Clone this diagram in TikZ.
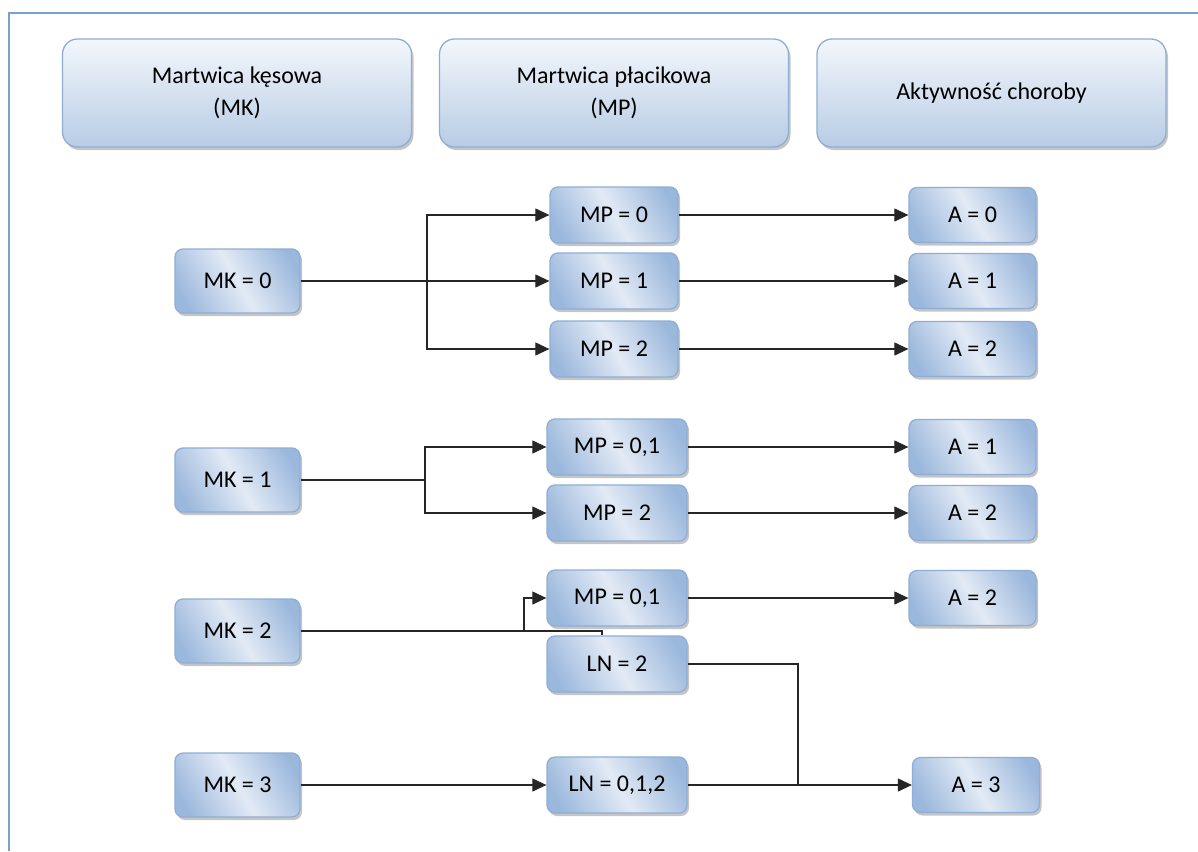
\documentclass[tikz,border=0pt]{standalone}
\usepackage{fontspec}
\setmainfont{Carlito}
\usetikzlibrary{arrows.meta,shadows}
\definecolor{bxdark}{HTML}{9AB7DC}
\definecolor{bxlight}{HTML}{E2EAF5}
\definecolor{bxborder}{HTML}{8FAED5}
\definecolor{hdtop}{HTML}{F3F7FB}
\definecolor{hdbot}{HTML}{B8CCE5}
\definecolor{framecol}{HTML}{7A9FD2}
\pgfdeclarehorizontalshading{boxsh}{100bp}{color(0bp)=(bxdark); color(22bp)=(bxdark); color(50bp)=(bxlight); color(78bp)=(bxdark); color(100bp)=(bxdark)}
\tikzset{
  shd/.style={drop shadow={shadow xshift=2pt,shadow yshift=-3pt,fill=black!50,opacity=.45}},
  smallbox/.style={shd,draw=bxborder,line width=1.3pt,rounded corners=8pt,shading=boxsh,shading angle=30,
    minimum height=56pt,inner sep=0pt,font=\fontsize{24}{28}\selectfont,text=black},
  mkbox/.style={smallbox,minimum width=125pt,minimum height=64pt},
  mpbox/.style={smallbox,minimum width=128pt},
  mpwbox/.style={smallbox,minimum width=140pt},
  abox/.style={smallbox,minimum width=127pt,minimum height=55pt},
  headbox/.style={shd,draw=bxborder,line width=1.3pt,rounded corners=15pt,top color=hdtop,bottom color=hdbot,
    minimum width=349pt,minimum height=108pt,inner sep=0pt,align=center,
    font=\fontsize{24}{32}\selectfont,text=black},
  conn/.style={line width=1.2pt,black!85},
  arr/.style={conn,-{Triangle[length=14pt,width=13pt]}},
}
\begin{document}
\begin{tikzpicture}[x=1pt,y=-1pt]
\useasboundingbox (0,0) rectangle (1198,851);
\fill[white] (0,0) rectangle (1198,851);
\draw[framecol,line width=1.5pt] (9,851) -- (9,13) -- (1198,13);

% headers
\node[headbox] (h1) at (237,93) {Martwica kęsowa\\(MK)};
\node[headbox] (h2) at (614,93) {Martwica płacikowa\\(MP)};
\node[headbox] (h3) at (991.5,93) {Aktywność choroby};

% MK column
\node[mkbox] (mk0) at (237.5,281) {MK = 0};
\node[mkbox] (mk1) at (237.5,480) {MK = 1};
\node[mkbox] (mk2) at (237.5,631) {MK = 2};
\node[mkbox] (mk3) at (237.5,785) {MK = 3};

% MP column
\node[mpbox] (mp0a) at (614,215) {MP = 0};
\node[mpbox] (mp1a) at (614,281) {MP = 1};
\node[mpbox] (mp2a) at (614,349) {MP = 2};
\node[mpwbox] (mp01b) at (617,447) {MP = 0,1};
\node[mpwbox] (mp2b) at (617,513) {MP = 2};
\node[mpwbox] (mp01c) at (617,598) {MP = 0,1};
\node[mpwbox] (ln2) at (617,664) {LN = 2};
\node[mpwbox] (ln012) at (617,785) {LN = 0,1,2};

% A column
\node[abox] (a0) at (972.5,215) {A = 0};
\node[abox] (a1) at (972.5,281) {A = 1};
\node[abox] (a2) at (972.5,349) {A = 2};
\node[abox] (a1b) at (972.5,447) {A = 1};
\node[abox] (a2b) at (972.5,513) {A = 2};
\node[abox] (a2c) at (972.5,598) {A = 2};
\node[abox] (a3) at (976,785) {A = 3};

% junction coordinates
\coordinate (j1) at (427,281);
\coordinate (j2) at (425,480);
\coordinate (j3) at (524,631);
\coordinate (d3) at (602,631);
\coordinate (j4) at (798,785);

% group MK=0
\draw[arr] (mk0.east) -- (mp1a.west);
\draw[arr] (j1) |- (mp0a.west);
\draw[arr] (j1) |- (mp2a.west);
% group MK=1
\draw[conn] (mk1.east) -- (j2);
\draw[arr] (j2) |- (mp01b.west);
\draw[arr] (j2) |- (mp2b.west);
% group MK=2
\draw[conn] (mk2.east) -- (j3);
\draw[arr] (j3) |- (mp01c.west);
\draw[conn] (j3) -- (d3) -- (ln2.north -| d3);
% group MK=3
\draw[arr] (mk3.east) -- (ln012.west);

% to A column
\draw[arr] (mp0a.east) -- (a0.west);
\draw[arr] (mp1a.east) -- (a1.west);
\draw[arr] (mp2a.east) -- (a2.west);
\draw[arr] (mp01b.east) -- (a1b.west);
\draw[arr] (mp2b.east) -- (a2b.west);
\draw[arr] (mp01c.east) -- (a2c.west);
\draw[conn] (ln2.east) -| (j4);
\draw[arr] (ln012.east) -- (a3.west);
\end{tikzpicture}
\end{document}
